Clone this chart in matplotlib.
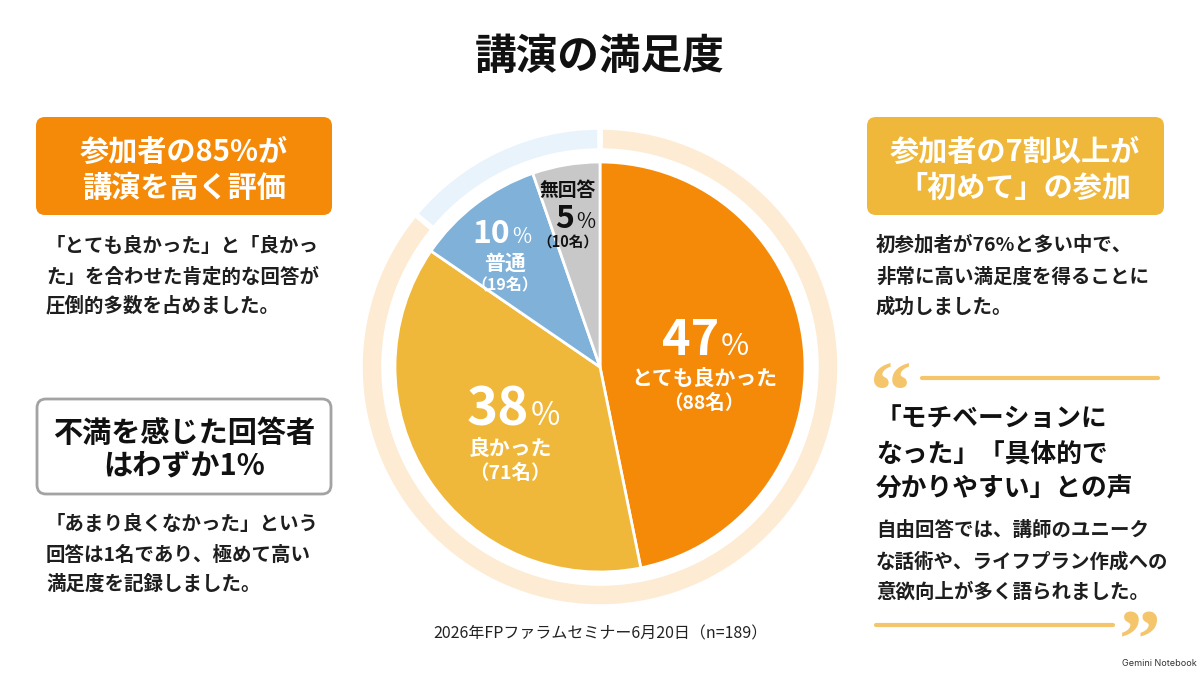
import matplotlib
matplotlib.use("Agg")
import matplotlib.pyplot as plt
from matplotlib.patches import FancyBboxPatch

plt.rcParams['font.family'] = ['Noto Sans CJK JP', 'DejaVu Sans']

# ---------------- data ----------------
title = "講演の満足度"
categories = ["とても良かった", "良かった", "普通", "無回答"]
counts = [88, 71, 19, 10]
percents = [47, 38, 10, 5]
n_total = 189
ring_shares = [86, 14]          # outer decorative ring (peach / light blue)

left_head1 = ["参加者の85%が", "講演を高く評価"]
left_body1 = ["「とても良かった」と「良かっ", "た」を合わせた肯定的な回答が", "圧倒的多数を占めました。"]
left_head2 = ["不満を感じた回答者", "はわずか1%"]
left_body2 = ["「あまり良くなかった」という", "回答は1名であり、極めて高い", "満足度を記録しました。"]
right_head = ["参加者の7割以上が", "「初めて」の参加"]
right_body = ["初参加者が76%と多い中で、", "非常に高い満足度を得ることに", "成功しました。"]
quote_lines = ["「モチベーションに", "なった」「具体的で", "分かりやすい」との声"]
quote_body = ["自由回答では、講師のユニーク", "な話術や、ライフプラン作成への", "意欲向上が多く語られました。"]
footer = f"2026年FPファラムセミナー6月20日（n={n_total}）"

# ---------------- style ----------------
ORANGE = "#F58A08"
YELLOW = "#F0B83A"
BLUE = "#80B1D9"
GREY = "#C8C8C8"
PEACH = "#FDEBD3"
LBLUE = "#E9F3FC"
QUOTE = "#F5C56B"
TXT = "#1E1E1E"
slice_colors = [ORANGE, YELLOW, BLUE, GREY]

W, H = 1200, 675
fig = plt.figure(figsize=(12, 6.75), dpi=100)
fig.patch.set_facecolor("white")

bg = fig.add_axes([0, 0, 1, 1])
bg.set_xlim(0, W)
bg.set_ylim(H, 0)
bg.axis("off")

# title
bg.text(600, 57, title, ha="center", va="center", fontsize=30, fontweight="bold", color="#111111")

def box(x0, y0, x1, y1, fc, ec=None, lw=0):
    p = FancyBboxPatch((x0, y0), x1 - x0, y1 - y0,
                       boxstyle="round,pad=0,rounding_size=9",
                       fc=fc, ec=ec if ec else fc, lw=lw, zorder=1)
    bg.add_patch(p)

def lines(x, ys, texts, ha="left", **kw):
    for y, t in zip(ys, texts):
        bg.text(x, y, t, ha=ha, va="center", zorder=3, **kw)

# left column
box(36, 117, 332, 215, ORANGE)
lines(184, [152, 188], left_head1, ha="center", fontsize=21, fontweight="bold", color="white")
lines(46, [247, 277, 306], left_body1, fontsize=14, fontweight="bold", color=TXT)

box(37, 399, 331, 494, "white", ec="#A3A3A3", lw=2)
lines(184, [433, 467], left_head2, ha="center", fontsize=21, fontweight="bold", color="#111111")
lines(46, [525, 555, 584], left_body2, fontsize=14, fontweight="bold", color=TXT)

# right column
box(867, 117, 1164, 215, YELLOW)
lines(1015, [152, 188], right_head, ha="center", fontsize=21, fontweight="bold", color="white")
lines(876, [245, 277, 307], right_body, fontsize=14, fontweight="bold", color=TXT)

QFONT = ["Liberation Serif", "DejaVu Serif"]
bg.plot([922, 1158], [378, 378], color=QUOTE, lw=3, solid_capstyle="round")
bg.text(870, 418, "\u201C", ha="left", va="baseline", fontsize=60, fontweight="bold",
        color=QUOTE, family=QFONT)
lines(876, [418, 455, 489], quote_lines, fontsize=18.5, fontweight="bold", color="#111111")
lines(876, [530, 562, 592], quote_body, fontsize=14, fontweight="bold", color=TXT)
bg.plot([876, 1113], [625, 625], color=QUOTE, lw=3, solid_capstyle="round")
bg.text(1119, 666, "\u201D", ha="left", va="baseline", fontsize=60, fontweight="bold",
        color=QUOTE, family=QFONT)

# footer + watermark
bg.text(600, 634, footer, ha="center", va="center", fontsize=11.5, color="#222222")
bg.text(1197, 664, "Gemini Notebook", ha="right", va="center", fontsize=6.5,
        color="#333333", family=["Inter", "DejaVu Sans"])

# ---------------- pie ----------------
CX, CY, S = 600, 367, 250
pa = fig.add_axes([(CX - S) / W, (H - CY - S) / H, 2 * S / W, 2 * S / H])
pa.pie(ring_shares, radius=240, startangle=90, counterclock=False,
       colors=[PEACH, LBLUE], wedgeprops=dict(width=24, edgecolor="white", linewidth=4))
pa.pie(counts, radius=205, startangle=90, counterclock=False,
       colors=slice_colors, wedgeprops=dict(edgecolor="white", linewidth=2))
pa.set_xlim(-S, S)
pa.set_ylim(-S, S)
pa.set_aspect("equal")
pa.axis("off")

# label layout (pixel positions): split x between number and %, number baseline,
# name y, count y, name x, sizes, colour
layout = [
    dict(split=719, base=355, name_y=378, cnt_y=403, x=704, big=35, pct=22, nm=15, cn=14, col="white"),
    dict(split=529, base=425, name_y=448, cnt_y=473, x=510, big=38, pct=23, nm=15, cn=14, col="white"),
    dict(split=510, base=243, name_y=263, cnt_y=285, x=505, big=23, pct=15, nm=15, cn=11.5, col="white"),
    dict(split=574, base=228, name_y=190, cnt_y=242, x=568, big=23, pct=15, nm=13.5, cn=10.5, col="#111111"),
]

def P(px, py):
    return px - CX, CY - py

for cat, c, p, L in zip(categories, counts, percents, layout):
    pa.text(*P(L["split"], L["base"]), f"{p}", ha="right", va="baseline",
            fontsize=L["big"], fontweight="bold", color=L["col"])
    pa.text(*P(L["split"] + 2, L["base"]), "%", ha="left", va="baseline",
            fontsize=L["pct"], fontweight="normal", color=L["col"])
    pa.text(*P(L["x"], L["name_y"]), cat, ha="center", va="center",
            fontsize=L["nm"], fontweight="bold", color=L["col"])
    pa.text(*P(L["x"], L["cnt_y"]), f"（{c}名）", ha="center", va="center",
            fontsize=L["cn"], fontweight="bold", color=L["col"])

fig.savefig("out.png", dpi=100, facecolor="white")
